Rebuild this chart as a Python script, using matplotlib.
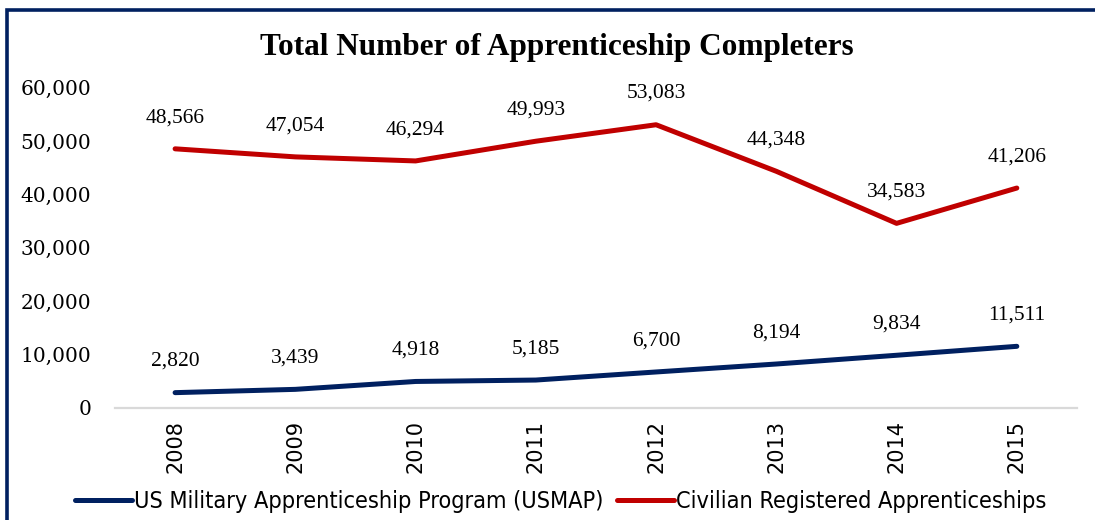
import matplotlib.pyplot as plt
from matplotlib.lines import Line2D

# Apprenticeship completers by year
years = ['2008', '2009', '2010', '2011', '2012', '2013', '2014', '2015']
usmap = [2820, 3439, 4918, 5185, 6700, 8194, 9834, 11511]
civilian = [48566, 47054, 46294, 49993, 53083, 44348, 34583, 41206]

navy = '#002060'
red = '#C00000'

fig = plt.figure(figsize=(10.95, 5.2), dpi=100)
ax = fig.add_axes([0.105, 0.216, 0.8785, 0.615])

x = list(range(len(years)))
ax.plot(x, usmap, color=navy, lw=3.6, solid_capstyle='round',
        label='US Military Apprenticeship Program (USMAP)')
ax.plot(x, civilian, color=red, lw=3.6, solid_capstyle='round',
        label='Civilian Registered Apprenticeships')

# data labels above each point
for xi, v in zip(x, usmap):
    ax.annotate(f'{v:,}', (xi, v), xytext=(0, 22.5), textcoords='offset points',
                ha='center', va='center', fontsize=15.5, family='Liberation Serif')
for xi, v in zip(x, civilian):
    ax.annotate(f'{v:,}', (xi, v), xytext=(0, 22.5), textcoords='offset points',
                ha='center', va='center', fontsize=15.5, family='Liberation Serif')

ax.set_xlim(-0.5, 7.5)
ax.set_ylim(0, 60000)
ax.set_yticks(range(0, 60001, 10000))
ax.set_yticklabels([f'{t:,}' for t in range(0, 60001, 10000)],
                   fontsize=14.5, family='DejaVu Serif')
ax.set_xticks(x)
ax.set_xticklabels(years, rotation=90, fontsize=15, family='DejaVu Sans')
ax.tick_params(axis='both', length=0)
ax.tick_params(axis='y', pad=17)
ax.tick_params(axis='x', pad=9)

for s in ['top', 'right', 'left']:
    ax.spines[s].set_visible(False)
ax.spines['bottom'].set_color('#d9d9d9')
ax.spines['bottom'].set_linewidth(1.6)

fig.text(557 / 1095, 1 - 47 / 520, 'Total Number of Apprenticeship Completers',
         fontsize=22.5, fontweight='bold', family='Liberation Serif',
         ha='center', va='center')

fig.legend(handles=ax.get_lines(), loc='center', bbox_to_anchor=(0.512, 0.036),
           ncol=2, frameon=False, handlelength=2.45, handletextpad=0.08,
           columnspacing=0.6,
           prop={'family': 'DejaVu Sans', 'stretch': 'condensed', 'size': 16.8})

# navy frame around the chart (only left and top edges visible)
bx = 7 / 1095
by = 1 - 9.5 / 520
fig.add_artist(Line2D([bx, bx, 1.0], [0.0, by, by], transform=fig.transFigure,
                      color=navy, lw=2.6, solid_joinstyle='miter'))

fig.savefig('out.png', dpi=100)
